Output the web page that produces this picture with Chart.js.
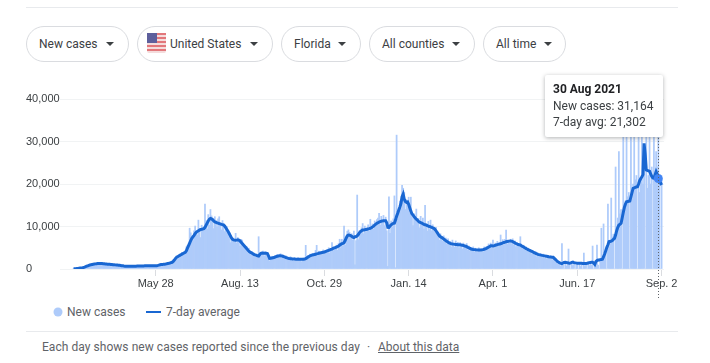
<!DOCTYPE html>
<html lang="en">

<head>
  <meta charset="UTF-8">
  <title>New cases</title>
  <script src="https://cdn.jsdelivr.net/npm/chart.js"></script>
  <style>
    body { margin: 0; background: #fff; font-family: Roboto, "Liberation Sans", sans-serif; color: #3c4043; }
    #pagina { position: relative; width: 710px; height: 363px; overflow: hidden; }
    .linha { position: absolute; left: 26px; width: 652px; height: 1px; background: #e8eaed; }
    .chip { position: absolute; top: 26px; height: 34px; border: 1px solid #dadce0; border-radius: 18px; box-sizing: content-box; font-size: 12px; line-height: 34px; color: #3c4043; white-space: nowrap; }
    .chip span { position: absolute; top: 0; }
    .chip i { position: absolute; top: 15px; width: 0; height: 0; border-left: 4px solid transparent; border-right: 4px solid transparent; border-top: 4px solid #3c4043; }
    #caixaGrafico { position: absolute; left: 0; top: 85px; width: 710px; height: 215px; }
    #dica { position: absolute; left: 545px; top: 75px; width: 118px; height: 62px; background: #fff; border-radius: 2px; box-shadow: 0 1px 4px rgba(60, 64, 67, 0.4); font-size: 12px; line-height: 16.5px; }
    #dica div { position: absolute; left: 8px; white-space: nowrap; }
    .legenda { position: absolute; top: 304px; font-size: 12px; line-height: 16px; color: #5f6368; white-space: nowrap; }
    #rodape { position: absolute; left: 42px; top: 339px; font-size: 12px; line-height: 16px; color: #5f6368; white-space: nowrap; letter-spacing: 0.004em; }
    #rodape a { position: absolute; left: 336px; top: 0; color: #5f6368; text-decoration: underline; letter-spacing: 0; }
    #ponto { position: absolute; left: 325px; top: 0; }
  </style>
</head>

<body>
  <div id="pagina">
    <div class="linha" style="top: 7px"></div>

    <div class="chip" style="left: 26px; width: 101px"><span style="left: 12px">New cases</span><i style="left: 79px"></i></div>
    <div class="chip" style="left: 137px; width: 134px">
      <svg style="position: absolute; left: 9px; top: 6px" width="19" height="20" viewBox="0 0 19 20">
        <rect width="19" height="20" rx="2" fill="#f4dcdc" />
        <rect y="0" width="19" height="2" fill="#e2777b" />
        <rect y="4" width="19" height="2" fill="#e2777b" />
        <rect y="8" width="19" height="2" fill="#e2777b" />
        <rect y="12" width="19" height="2" fill="#e2777b" />
        <rect y="16" width="19" height="2" fill="#e2777b" />
        <rect width="10" height="10" fill="#5d5f9c" />
      </svg>
      <span style="left: 32px">United States</span><i style="left: 112px"></i>
    </div>
    <div class="chip" style="left: 281px; width: 78px"><span style="left: 12px">Florida</span><i style="left: 56px"></i></div>
    <div class="chip" style="left: 369px; width: 104px"><span style="left: 12px">All counties</span><i style="left: 82px"></i></div>
    <div class="chip" style="left: 483px; width: 81px"><span style="left: 12px">All time</span><i style="left: 60px"></i></div>

    <div id="caixaGrafico"><canvas id="myCanvas"></canvas></div>

    <div id="dica">
      <div style="top: 6px; font-weight: 700; color: #202124">30 Aug 2021</div>
      <div style="top: 23px">New cases: 31,164</div>
      <div style="top: 39px">7-day avg: 21,302</div>
    </div>

    <svg style="position: absolute; left: 53px; top: 307px" width="10" height="10"><circle cx="5" cy="5" r="4.5" fill="#aecbfa" /></svg>
    <div class="legenda" style="left: 67px">New cases</div>
    <svg style="position: absolute; left: 146px; top: 311px" width="15" height="2"><rect width="15" height="2" fill="#1967d2" /></svg>
    <div class="legenda" style="left: 166px">7-day average</div>

    <div class="linha" style="top: 331px"></div>
    <div id="rodape">Each day shows new cases reported since the previous day<span id="ponto">·</span><a href="#">About this data</a></div>
  </div>
</body>

</html>
<script>
  // days counted from 14 Mar 2020
  const tickDays = [75, 152, 229, 306, 383, 460, 537];
  const tickLabels = ["May 28", "Aug. 13", "Oct. 29", "Jan. 14", "Apr. 1", "Jun. 17", "Sep. 2"];
  const yTicks = [0, 10000, 20000, 30000, 40000];
  const hoverDay = 534;

  const newCases = [
    40, 60, 90, 120, 150, 190, 240,
    280, 320, 380, 500, 620, 740, 840,
    920, 1010, 1100, 1200, 1050, 1170, 1240,
    1300, 1350, 1250, 1380, 1330, 1220, 1190,
    1290, 1120, 1240, 1100, 1060, 1180, 1000,
    1120, 960, 1060, 1030, 900, 980, 810,
    900, 800, 690, 820, 650, 740, 560,
    620, 680, 590, 650, 700, 610, 620,
    720, 640, 710, 650, 760, 680, 660,
    780, 700, 800, 720, 730, 810, 690,
    820, 740, 850, 760, 700, 830, 780,
    950, 880, 1100, 1000, 1200, 1050, 1280,
    1220, 1300, 1420, 1260, 1530, 1700, 1420,
    1900, 2300, 2700, 3100, 3000, 2900, 3500,
    3300, 3900, 3800, 3500, 4000, 5200, 5500,
    5300, 9600, 8500, 7800, 6600, 9000, 10100,
    8500, 8000, 11500, 9500, 7400, 10300, 9800,
    8900, 15300, 11400, 9400, 12800, 10300, 14000,
    12500, 11800, 9500, 12300, 11400, 9900, 11800,
    12300, 10600, 9200, 11400, 10700, 8800, 9900,
    10000, 8700, 8200, 6200, 7800, 6500, 7300,
    7000, 8400, 6100, 7400, 6900, 5400, 7000,
    6800, 5200, 5500, 4700, 5300, 3800, 4900,
    4300, 3300, 4100, 3700, 3400, 2800, 3500,
    3200, 7600, 3000, 3900, 3400, 4200, 3000,
    4100, 3500, 2700, 2400, 1900, 2800, 3000,
    2600, 2800, 3200, 2600, 3400, 3000, 2700,
    3600, 2500, 3300, 2700, 2300, 3100, 2100,
    2600, 2000, 2900, 2200, 2400, 1800, 2700,
    2500, 1900, 2700, 2100, 2500, 1700, 2400,
    2600, 2200, 5570, 2300, 3100, 2700, 3500,
    3300, 2900, 3700, 3000, 4400, 5570, 3100,
    4200, 3400, 4000, 3500, 4500, 3700, 4300,
    4400, 3900, 5000, 3700, 4800, 6200, 4300,
    5000, 4700, 5600, 4400, 6000, 7000, 5000,
    7000, 5400, 10100, 5600, 6800, 8900, 9200,
    8600, 7500, 8300, 6800, 8900, 1000, 6700,
    17400, 6900, 9000, 8100, 9700, 10700, 8300,
    10100, 8600, 9700, 10400, 9000, 11700, 9200,
    10600, 9400, 11300, 10000, 11600, 12000, 13100,
    10300, 12400, 10800, 12600, 10200, 12200, 9000,
    600, 17000, 8400, 11300, 9900, 11800, 17200,
    300, 31500, 11700, 14000, 16000, 14200, 19700,
    19000, 18000, 14000, 16300, 14900, 16900, 13200,
    16900, 12600, 10200, 13000, 12400, 14100, 10800,
    11900, 9700, 12400, 10300, 12000, 9400, 15000,
    10500, 8900, 11200, 9300, 11500, 9000, 10400,
    9100, 8600, 9800, 8000, 8700, 6800, 8300,
    7400, 6500, 7800, 6400, 7300, 5800, 7100,
    5900, 6500, 5200, 6800, 6000, 5100, 6600,
    5300, 6300, 5000, 6200, 5500, 4700, 6100,
    5500, 4900, 6000, 4500, 5400, 4200, 5100,
    4400, 5200, 4000, 4900, 4300, 3900, 5000,
    4700, 3900, 4800, 4100, 5200, 4500, 5300,
    4900, 5900, 4700, 6100, 5200, 6800, 4800,
    6100, 5200, 6500, 5300, 6200, 8000, 5500,
    6900, 5600, 7000, 9180, 5800, 6700, 6100,
    7000, 6000, 7100, 5700, 6600, 5200, 6300,
    5300, 6000, 7600, 5200, 4800, 5600, 4500,
    5200, 4200, 4900, 3900, 4600, 3600, 4400,
    4000, 3200, 4100, 2900, 3800, 3000, 3600,
    3400, 2700, 3500, 2500, 3300, 2400, 3100,
    2900, 2300, 3100, 2100, 2800, 2000, 1600,
    2000, 1200, 1400, 900, 600, 6000, 900,
    0, 1500, 700, 1000, 4700, 1200, 0,
    1300, 800, 1200, 0, 900, 1400, 0,
    1100, 600, 1300, 0, 3750, 700, 1000,
    0, 1200, 800, 1400, 900, 5400, 0,
    1000, 1300, 5650, 900, 0, 1800, 9600,
    2400, 10600, 3200, 4000, 0, 15300, 5200,
    6800, 16700, 7500, 8200, 0, 24000, 8000,
    12000, 27600, 13000, 14000, 0, 32000, 15000,
    16000, 32500, 17000, 18000, 0, 32000, 19000,
    20000, 32000, 21000, 22000, 0, 33000, 18000,
    21000, 32500, 20000, 23000, 0, 33000, 19000,
    22000, 32000, 20000, 24000, 0, 33000, 21000,
    27600, 24000, 31164, 20000, 0, 21000
  ];

  const sevenDayAvg = [
    50, 60, 80, 110, 140, 180, 220,
    260, 300, 360, 440, 540, 650, 760,
    860, 950, 1020, 1080, 1130, 1170, 1210,
    1250, 1280, 1290, 1300, 1290, 1270, 1250,
    1220, 1190, 1170, 1140, 1120, 1100, 1070,
    1050, 1020, 1000, 970, 950, 920, 890,
    860, 820, 780, 740, 700, 670, 640,
    630, 620, 620, 630, 640, 650, 650,
    660, 670, 680, 690, 700, 700, 710,
    720, 730, 740, 750, 750, 760, 760,
    770, 770, 780, 780, 780, 780, 790,
    850, 920, 980, 1040, 1080, 1100, 1140,
    1180, 1230, 1290, 1350, 1420, 1500, 1580,
    1800, 2100, 2450, 2750, 2900, 3050, 3200,
    3350, 3500, 3650, 3780, 3900, 4300, 4900,
    5500, 6100, 6700, 7200, 7550, 7900, 8300,
    8650, 8850, 9000, 9150, 9300, 9350, 9420,
    9500, 9800, 10300, 10800, 11300, 11700, 11900,
    11800, 11600, 11300, 11100, 11000, 10850, 10800,
    10700, 10600, 10500, 10450, 10350, 10100, 9700,
    9300, 8900, 8400, 7900, 7400, 7000, 6850,
    6800, 6750, 6800, 6850, 6800, 6600, 6300,
    6000, 5700, 5400, 5100, 4800, 4500, 4200,
    4000, 3850, 3700, 3550, 3400, 3300, 3200,
    3100, 3050, 3400, 3700, 3750, 3700, 3720,
    3700, 3700, 3650, 3100, 2500, 2550, 2590,
    2650, 2700, 2800, 2900, 3000, 3050, 3100,
    3130, 3080, 3000, 2900, 2800, 2700, 2600,
    2500, 2450, 2420, 2400, 2380, 2350, 2330,
    2320, 2300, 2300, 2280, 2270, 2280, 2270,
    2280, 2350, 2450, 2600, 2800, 2950, 3100,
    3200, 3290, 3350, 3400, 3480, 3550, 3620,
    3700, 3770, 3830, 3880, 3920, 4000, 4100,
    4200, 4300, 4400, 4500, 4600, 4700, 4850,
    4950, 5050, 5150, 5250, 5400, 5600, 5800,
    5950, 6050, 6190, 6700, 7300, 7800, 8000,
    7950, 7850, 7700, 7500, 7400, 7600, 7650,
    7800, 8100, 8500, 8800, 9000, 9180, 9200,
    9250, 9300, 9350, 9450, 9500, 9580, 9700,
    9900, 10100, 10350, 10550, 10750, 10900, 11050,
    11150, 11250, 11300, 11350, 11360, 11360, 10900,
    9810, 9800, 10100, 10400, 10600, 10750, 10800,
    11500, 12400, 13100, 13900, 14600, 15460, 17000,
    17600, 16400, 15900, 15700, 15800, 15200, 14400,
    13600, 13000, 12700, 12300, 12000, 11700, 11500,
    11200, 11000, 10900, 10800, 10650, 10500, 10400,
    10350, 10200, 10100, 10000, 9900, 9800, 9700,
    9580, 9350, 9000, 8600, 8200, 7850, 7600,
    7450, 7250, 7050, 6850, 6650, 6500, 6300,
    6150, 6040, 5950, 5900, 5850, 5800, 5780,
    5750, 5720, 5700, 5680, 5650, 5600, 5550,
    5450, 5350, 5250, 5100, 5000, 4850, 4700,
    4650, 4600, 4560, 4530, 4500, 4470, 4460,
    4450, 4470, 4500, 4560, 4650, 4750, 4850,
    5000, 5150, 5300, 5480, 5450, 5410, 5480,
    5560, 5640, 5720, 5800, 5880, 5950, 6050,
    6150, 6250, 6320, 6400, 6470, 6520, 6560,
    6590, 6560, 6450, 6300, 6150, 6000, 5880,
    5760, 5700, 5650, 5480, 5320, 5170, 5000,
    4850, 4700, 4580, 4460, 4320, 4200, 4080,
    3950, 3800, 3650, 3550, 3450, 3380, 3320,
    3260, 3200, 3150, 3090, 3030, 2980, 2930,
    2880, 2840, 2800, 2770, 2750, 2500, 2250,
    2000, 1750, 1600, 1450, 1340, 1250, 1400,
    1550, 1600, 1520, 1480, 1400, 1380, 1450,
    1550, 1620, 1500, 1440, 1400, 1380, 1360,
    1350, 1340, 1340, 1300, 1280, 1270, 1290,
    1340, 1420, 1500, 1550, 1570, 1580, 1400,
    1100, 1750, 2000, 2100, 2120, 2200, 2250,
    2300, 2900, 3530, 4300, 5100, 5700, 6420,
    6450, 6550, 6700, 7000, 7220, 8000, 9000,
    9800, 10350, 10500, 10750, 12000, 13300, 14500,
    15300, 15840, 15900, 15950, 16000, 17000, 18000,
    19000, 19100, 19200, 19300, 19370, 20000, 20800,
    21300, 21720, 22200, 29560, 27000, 23300, 23200,
    23100, 23000, 22400, 21800, 21400, 21340, 22100,
    22900, 22300, 21302, 20800, 20300, 19770
  ];

  const linhaPontilhada = {
    id: "linhaPontilhada",
    afterDatasetsDraw(chart) {
      const x = chart.scales.x.getPixelForValue(hoverDay);
      const ctx = chart.ctx;
      ctx.save();
      ctx.strokeStyle = "#5f6368";
      ctx.lineWidth = 1;
      ctx.setLineDash([1, 2]);
      ctx.beginPath();
      ctx.moveTo(Math.round(x) + 0.5, 50);
      ctx.lineTo(Math.round(x) + 0.5, 213);
      ctx.stroke();
      ctx.restore();
    },
  };

  new Chart(document.getElementById("myCanvas"), {
    type: "bar",
    data: {
      datasets: [
        {
          type: "line",
          label: "7-day average",
          data: sevenDayAvg.map((v, i) => ({ x: i, y: v })),
          borderColor: "#1967d2",
          borderWidth: 3,
          tension: 0,
          order: 1,
          pointRadius: (c) => (c.dataIndex === hoverDay ? 4.5 : 0),
          pointBackgroundColor: "#4285f4",
          pointBorderWidth: 0,
        },
        {
          label: "New cases",
          data: newCases.map((v, i) => ({ x: i, y: v })),
          backgroundColor: "#aecbfa",
          barPercentage: 1,
          categoryPercentage: 1,
          order: 2,
        },
      ],
    },
    options: {
      responsive: true,
      maintainAspectRatio: false,
      animation: false,
      events: [],
      layout: { padding: { left: 26, right: 46, top: 14, bottom: 0 } },
      plugins: { legend: { display: false }, tooltip: { enabled: false } },
      scales: {
        x: {
          type: "linear",
          offset: false,
          min: -12.4,
          max: 539.2,
          afterBuildTicks: (s) => { s.ticks = tickDays.map((d) => ({ value: d })); },
          afterFit: (s) => { s.height = 31; },
          grid: { offset: false, drawOnChartArea: false, tickLength: 7, color: "#dadce0" },
          border: { display: false },
          ticks: {
            autoSkip: false,
            maxRotation: 0,
            padding: 1,
            color: "#3c4043",
            font: { family: "Liberation Sans", size: 11 },
            callback: (v) => tickLabels[tickDays.indexOf(v)],
          },
        },
        y: {
          min: 0,
          max: 40000,
          afterBuildTicks: (s) => { s.ticks = yTicks.map((v) => ({ value: v })); },
          afterFit: (s) => { s.width = 34; },
          grid: { color: "#f1f3f4", lineWidth: 1, drawTicks: false },
          border: { display: false },
          ticks: {
            crossAlign: "far",
            padding: 1,
            color: "#3c4043",
            font: { family: "Liberation Sans", size: 11 },
            callback: (v) => v.toLocaleString("en-US"),
          },
        },
      },
    },
    plugins: [linhaPontilhada],
  });
</script>
